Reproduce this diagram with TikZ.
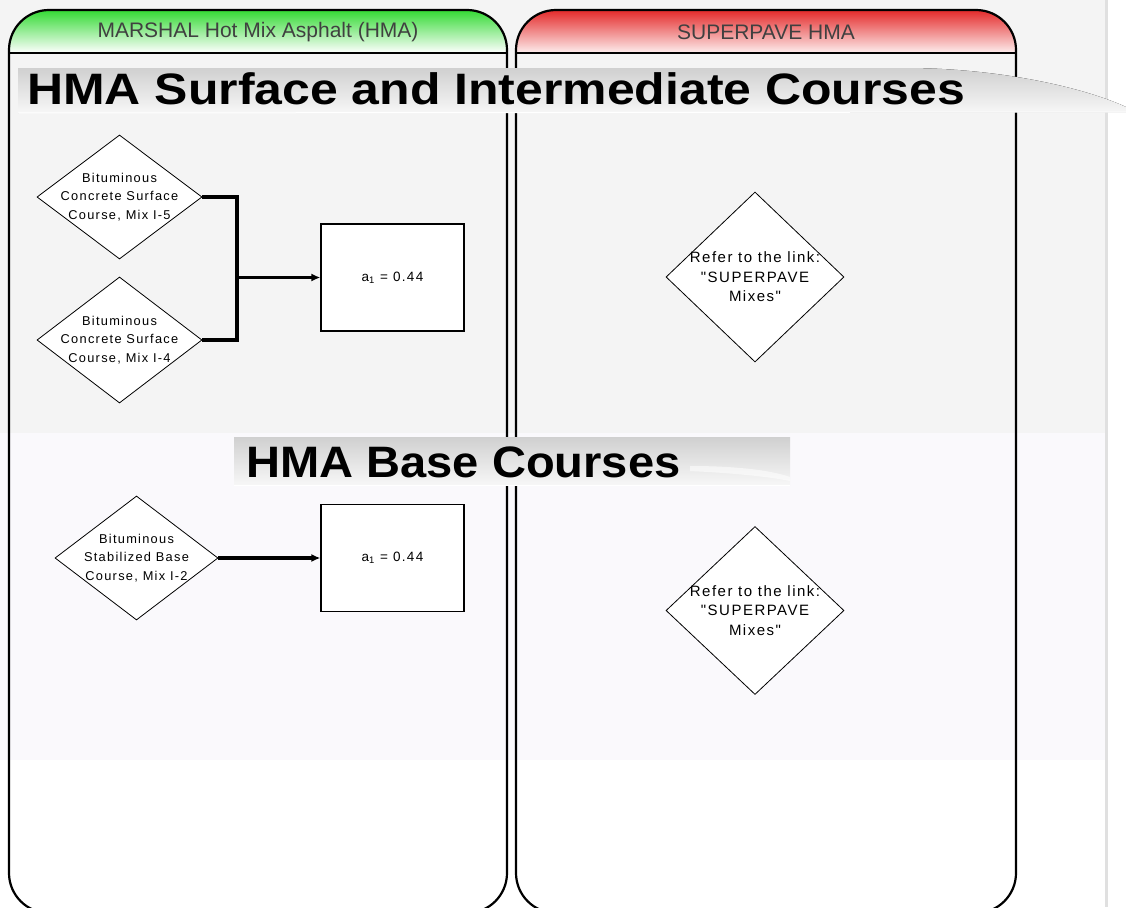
\documentclass[tikz,border=0pt]{standalone}
\usepackage{fontspec}
\setmainfont{Liberation Sans}
\newfontfamily\spaced[LetterSpace=10]{Liberation Sans}
\usetikzlibrary{shapes.geometric,arrows.meta}

\definecolor{bandgray}{HTML}{F4F4F4}
\definecolor{bandlilac}{HTML}{FAF9FC}
\definecolor{edgegray}{HTML}{E0E0E0}
\definecolor{hdrgreen}{HTML}{34DA34}
\definecolor{hdrred}{HTML}{E42A2A}
\definecolor{bannertop}{HTML}{D0D0D0}
\definecolor{bannerbot}{HTML}{F7F7F7}
\definecolor{hdrtext}{HTML}{404040}

\begin{document}
\begin{tikzpicture}[x=1pt,y=-1pt,
  lane/.style={draw=black,line width=2.2pt,rounded corners=40pt},
  hdrline/.style={draw=black,line width=1.4pt},
  hdrtitle/.style={text=hdrtext,font=\fontsize{21}{24}\selectfont,inner sep=0pt},
  bannertitle/.style={font=\bfseries\fontsize{44}{50}\selectfont,anchor=base west,inner sep=0pt},
  decision/.style={shape=diamond,draw=black,line width=0.8pt,fill=white,inner sep=0pt},
  dtext/.style={align=center,inner sep=0pt},
  result/.style={draw=black,line width=1.2pt,fill=white,minimum width=143pt,minimum height=107pt,inner sep=0pt,font=\spaced\fontsize{13.5}{15}\selectfont},
  conn/.style={draw=black,line width=3.5pt,line join=miter},
  tip/.style={-{Latex[length=9pt,width=8pt]}}
]
\useasboundingbox (0,0) rectangle (1126,907);
\clip (0,0) rectangle (1126,907);

% page background bands
\fill[white] (0,0) rectangle (1126,907);
\fill[bandgray] (0,0) rectangle (1105,433);
\fill[bandlilac] (0,433) rectangle (1105,760);
\fill[edgegray] (1104.5,0) rectangle (1108,907);

% lane headers (gradient, clipped to the rounded lane outline)
\begin{scope}
  \clip[rounded corners=40pt] (9,10) rectangle (507,913);
  \fill[top color=hdrgreen,bottom color=white] (9,10) rectangle (507,53);
\end{scope}
\begin{scope}
  \clip[rounded corners=40pt] (516,10) rectangle (1016,913);
  \fill[top color=hdrred,bottom color=white!92!hdrred] (516,10) rectangle (1016,53);
\end{scope}

% lane outlines and header separators
\draw[lane] (9,10) rectangle (507,913);
\draw[lane] (516,10) rectangle (1016,913);
\draw[hdrline] (9,53) -- (507,53);
\draw[hdrline] (516,53) -- (1016,53);

\node[hdrtitle] (marshal) at (258,32) {MARSHAL Hot Mix Asphalt (HMA)};
\node[hdrtitle] (superpave) at (766,32) {SUPERPAVE HMA};

% section banners
\fill[top color=bannertop,bottom color=bannerbot]
  (18,68) -- (905,68) .. controls (1000,68) and (1085,88) .. (1126,107)
  -- (1126,112) -- (18,113) -- cycle;
\draw[white,line width=1pt] (18,113) -- (1126,112);
\node[bannertitle,xscale=1.135] (surface) at (27,104) {HMA Surface and Intermediate Courses};

\fill[top color=bannertop,bottom color=bannerbot] (234,437) rectangle (790,485);
\fill[white,opacity=0.55] (690,466) .. controls (735,466) and (770,470) .. (790,477)
  -- (790,481) .. controls (765,476) and (730,473) .. (690,471) -- cycle;
\draw[white,line width=1pt] (234,485) -- (790,485);
\node[bannertitle,xscale=1.07] (base) at (246,477) {HMA Base Courses};

% Marshall mixes
\node[decision,minimum width=165pt,minimum height=124pt] (mixA) at (119.5,197) {};
\node[dtext,font=\spaced\fontsize{12.8}{18.5}\selectfont] (mixAtxt) at (mixA) {Bituminous\\Concrete Surface\\Course, Mix I-5};
\node[decision,minimum width=165pt,minimum height=126pt] (mixB) at (119.5,340) {};
\node[dtext,font=\spaced\fontsize{12.8}{18.5}\selectfont] (mixBtxt) at (mixB) {Bituminous\\Concrete Surface\\Course, Mix I-4};
\node[decision,minimum width=163pt,minimum height=124pt] (mixC) at (136.5,558) {};
\node[dtext,font=\spaced\fontsize{12.8}{18.5}\selectfont] (mixCtxt) at (mixC) {Bituminous\\Stabilized Base\\Course, Mix I-2};

\node[result] (coefA) at (392.5,277.5) {a\textsubscript{1} = 0.44};
\node[result] (coefB) at (392.5,558) {a\textsubscript{1} = 0.44};

\coordinate (join) at (237,277.5);
\draw[conn] (mixA.east) -| (join);
\draw[conn] (mixB.east) -| (join);
\draw[conn,tip] (join) -- (coefA.west);
\draw[conn,tip] (mixC.east) -- (coefB.west);

% Superpave references
\node[decision,minimum width=178pt,minimum height=170pt] (refA) at (755,277) {};
\node[dtext,font=\spaced\fontsize{15}{19.5}\selectfont] (refAtxt) at (refA) {Refer to the link:\\"SUPERPAVE\\Mixes"};
\node[decision,minimum width=178pt,minimum height=168pt] (refB) at (755,610.5) {};
\node[dtext,font=\spaced\fontsize{15}{19.5}\selectfont] (refBtxt) at (refB) {Refer to the link:\\"SUPERPAVE\\Mixes"};
\end{tikzpicture}
\end{document}
